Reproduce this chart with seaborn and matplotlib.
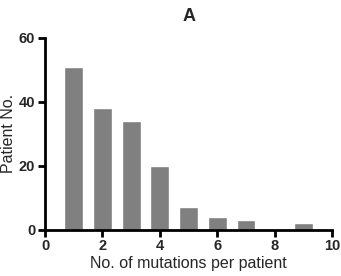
import pandas as pd
import matplotlib
matplotlib.use("Agg")
import matplotlib.pyplot as plt
import seaborn as sns

# valores
mutacoes = [1, 2, 3, 4, 5, 6, 7, 8, 9]
pacientes = [51, 38, 34, 20, 7, 4, 3, 0, 2]

df = pd.DataFrame({'mutacoes': mutacoes, 'pacientes': pacientes})

sns.set_style("ticks")
plt.rcParams['font.family'] = ['Liberation Sans', 'DejaVu Sans']

fig = plt.figure(figsize=(3.41, 2.76), dpi=100)
ax = fig.add_axes([0.132, 0.168, 0.842, 0.695])

sns.barplot(data=df, x='mutacoes', y='pacientes', native_scale=True,
            color='#808080', saturation=1, width=0.66, ax=ax)

ax.set_xlim(0, 10)
ax.set_ylim(0, 60)
ax.set_xticks([0, 2, 4, 6, 8, 10])
ax.set_yticks([0, 20, 40, 60])
ax.tick_params(axis='both', width=2, length=5, labelsize=10.5, pad=2, color='black')
for lbl in ax.get_xticklabels() + ax.get_yticklabels():
    lbl.set_fontweight('bold')
for s in ['left', 'bottom']:
    ax.spines[s].set_linewidth(2)
    ax.spines[s].set_color('black')
sns.despine(ax=ax)

ax.set_xlabel('No. of mutations per patient', fontsize=11.5, labelpad=2)
ax.set_ylabel('Patient No.', fontsize=11.5, labelpad=2)
ax.set_title('A', fontsize=13, fontweight='bold', pad=12)

plt.savefig('out.png', dpi=100)
